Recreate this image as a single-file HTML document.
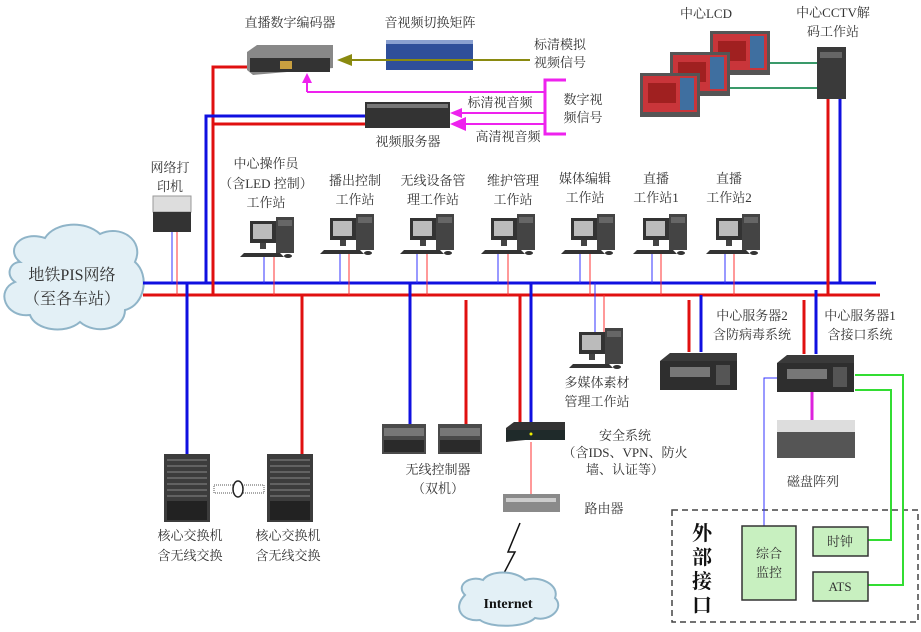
<!DOCTYPE html>
<html><head><meta charset="utf-8"><style>
html,body{margin:0;padding:0;background:#fff}
svg{display:block}
text{font-family:"Liberation Serif","Noto Serif CJK SC","Noto Sans CJK SC",serif;font-size:13px;fill:#333}
</style></head><body>
<svg width="921" height="632" viewBox="0 0 921 632" xmlns="http://www.w3.org/2000/svg">
<defs>
<g id="pc">
 <rect x="0" y="4" width="26" height="22" fill="#333"/>
 <rect x="3" y="7" width="19" height="15" fill="#bbb"/>
 <rect x="10" y="26" width="6" height="6" fill="#444"/>
 <rect x="26" y="0" width="18" height="36" fill="#444"/>
 <rect x="28" y="3" width="14" height="6" fill="#666"/>
 <polygon points="-6,36 30,36 34,40 -10,40" fill="#333"/>
 <ellipse cx="38" cy="39" rx="4" ry="2" fill="#333"/>
</g>
<g id="srv">
 <polygon points="0,8 10,0 77,0 77,30 0,37" fill="#3a3a3a"/>
 <rect x="0" y="8" width="77" height="29" fill="#2e2e2e"/>
 <rect x="10" y="14" width="40" height="10" fill="#777"/>
 <rect x="56" y="12" width="14" height="20" fill="#555"/>
</g>
<g id="sw">
 <rect x="0" y="0" width="46" height="68" fill="#3c3c3c"/>
 <g stroke="#888" stroke-width="1"><line x1="3" y1="6" x2="43" y2="6"/><line x1="3" y1="12" x2="43" y2="12"/><line x1="3" y1="18" x2="43" y2="18"/><line x1="3" y1="24" x2="43" y2="24"/><line x1="3" y1="30" x2="43" y2="30"/><line x1="3" y1="36" x2="43" y2="36"/><line x1="3" y1="42" x2="43" y2="42"/></g>
 <rect x="3" y="47" width="40" height="19" fill="#222"/>
</g>
<g id="lcd">
 <rect x="0" y="0" width="60" height="44" fill="#555"/>
 <rect x="3" y="3" width="54" height="36" fill="#c9353a"/>
 <rect x="40" y="5" width="14" height="32" fill="#3f6fa0"/>
 <rect x="8" y="10" width="28" height="20" fill="#a02020"/>
</g>
<g id="wc">
 <rect x="0" y="0" width="44" height="30" fill="#4a4a4a"/>
 <rect x="2" y="4" width="40" height="8" fill="#777"/>
 <rect x="2" y="16" width="40" height="12" fill="#2a2a2a"/>
</g>
</defs>

<!-- cloud PIS -->
<g fill="#e3f0f6" stroke="#8fb4c8" stroke-width="2">
 <path d="M20,262 C5,250 20,230 45,238 C55,222 85,220 100,234 C120,224 145,240 135,262 C150,275 145,305 125,310 C125,330 95,335 80,322 C65,335 35,330 30,315 C5,318 -5,290 15,282 C5,275 10,262 20,262 Z"/>
</g>
<text x="72" y="280" text-anchor="middle" font-size="16" style="font-size:16px">地铁PIS网络</text>
<text x="72" y="304" text-anchor="middle" style="font-size:16px">（至各车站）</text>

<!-- buses -->
<line x1="143" y1="283" x2="876" y2="283" stroke="#1010e0" stroke-width="3"/>
<line x1="143" y1="295" x2="880" y2="295" stroke="#e01010" stroke-width="3"/>

<!-- top: encoder, matrix, video server -->
<polyline points="213,295 213,67 247,67" fill="none" stroke="#e01010" stroke-width="3"/>
<polyline points="206,283 206,116 365,116" fill="none" stroke="#1010e0" stroke-width="3"/>
<line x1="213" y1="124" x2="365" y2="124" stroke="#e01010" stroke-width="3"/>
<polygon points="247,52 257,45 333,45 333,68 253,75 247,70" fill="#888"/>
<rect x="250" y="58" width="80" height="14" fill="#333"/>
<rect x="280" y="61" width="12" height="8" fill="#c9a040"/>
<rect x="386" y="40" width="87" height="30" fill="#2f4f9a"/>
<rect x="386" y="40" width="87" height="4" fill="#8aa0d0"/>
<rect x="365" y="102" width="85" height="26" fill="#333"/>
<rect x="367" y="104" width="81" height="4" fill="#777"/>
<line x1="530" y1="60" x2="345" y2="60" stroke="#8a8a10" stroke-width="2"/>
<polygon points="337,60 352,54 352,66" fill="#8a8a10"/>
<polyline points="307,92 545,92" fill="none" stroke="#ee22ee" stroke-width="2"/>
<line x1="307" y1="92" x2="307" y2="80" stroke="#ee22ee" stroke-width="2"/>
<polygon points="307,73 302,83 312,83" fill="#ee22ee"/>
<polyline points="566,80 545,80 545,134 566,134" fill="none" stroke="#ee22ee" stroke-width="3"/>
<line x1="545" y1="113" x2="458" y2="113" stroke="#ee22ee" stroke-width="2"/>
<polygon points="450,113 462,108 462,118" fill="#ee22ee"/>
<line x1="545" y1="124" x2="462" y2="124" stroke="#ee22ee" stroke-width="2"/>
<polygon points="450,124 466,117 466,131" fill="#ee22ee"/>
<text x="290" y="27" text-anchor="middle">直播数字编码器</text>
<text x="430" y="27" text-anchor="middle">音视频切换矩阵</text>
<text x="560" y="49" text-anchor="middle">标清模拟</text>
<text x="560" y="67" text-anchor="middle">视频信号</text>
<text x="500" y="107" text-anchor="middle">标清视音频</text>
<text x="508" y="141" text-anchor="middle">高清视音频</text>
<text x="583" y="104" text-anchor="middle">数字视</text>
<text x="583" y="122" text-anchor="middle">频信号</text>
<text x="408" y="146" text-anchor="middle">视频服务器</text>

<!-- printer -->
<rect x="153" y="196" width="38" height="16" fill="#ddd" stroke="#999"/>
<rect x="153" y="212" width="38" height="20" fill="#333"/>
<line x1="172" y1="232" x2="172" y2="283" stroke="#3333ff" stroke-width="1"/>
<line x1="177" y1="232" x2="177" y2="295" stroke="#ff3333" stroke-width="1"/>
<text x="170" y="172" text-anchor="middle">网络打</text>
<text x="170" y="191" text-anchor="middle">印机</text>

<!-- workstations -->
<g>
<use href="#pc" x="250" y="217"/><line x1="264" y1="257" x2="264" y2="283" stroke="#3333ff"/><line x1="274" y1="257" x2="274" y2="295" stroke="#ff3333"/>
<use href="#pc" x="330" y="214"/><line x1="340" y1="254" x2="340" y2="283" stroke="#3333ff"/><line x1="349" y1="254" x2="349" y2="295" stroke="#ff3333"/>
<use href="#pc" x="410" y="214"/><line x1="417" y1="254" x2="417" y2="283" stroke="#3333ff"/><line x1="427" y1="254" x2="427" y2="295" stroke="#ff3333"/>
<use href="#pc" x="491" y="214"/><line x1="498" y1="254" x2="498" y2="283" stroke="#3333ff"/><line x1="508" y1="254" x2="508" y2="295" stroke="#ff3333"/>
<use href="#pc" x="571" y="214"/><line x1="580" y1="254" x2="580" y2="283" stroke="#3333ff"/><line x1="590" y1="254" x2="590" y2="295" stroke="#ff3333"/>
<use href="#pc" x="643" y="214"/><line x1="652" y1="254" x2="652" y2="283" stroke="#3333ff"/><line x1="661" y1="254" x2="661" y2="295" stroke="#ff3333"/>
<use href="#pc" x="716" y="214"/><line x1="725" y1="254" x2="725" y2="283" stroke="#3333ff"/><line x1="734" y1="254" x2="734" y2="295" stroke="#ff3333"/>
</g>
<text x="266" y="168" text-anchor="middle">中心操作员</text>
<text x="266" y="188" text-anchor="middle">（含LED 控制）</text>
<text x="266" y="207" text-anchor="middle">工作站</text>
<text x="355" y="185" text-anchor="middle">播出控制</text>
<text x="355" y="204" text-anchor="middle">工作站</text>
<text x="433" y="185" text-anchor="middle">无线设备管</text>
<text x="433" y="204" text-anchor="middle">理工作站</text>
<text x="513" y="185" text-anchor="middle">维护管理</text>
<text x="513" y="204" text-anchor="middle">工作站</text>
<text x="585" y="183" text-anchor="middle">媒体编辑</text>
<text x="585" y="202" text-anchor="middle">工作站</text>
<text x="656" y="183" text-anchor="middle">直播</text>
<text x="656" y="202" text-anchor="middle">工作站1</text>
<text x="729" y="183" text-anchor="middle">直播</text>
<text x="729" y="202" text-anchor="middle">工作站2</text>

<!-- LCD & CCTV -->
<line x1="770" y1="63" x2="818" y2="63" stroke="#3a9a6a" stroke-width="2"/>
<line x1="730" y1="88" x2="818" y2="88" stroke="#3a9a6a" stroke-width="2"/>
<use href="#lcd" x="710" y="31"/>
<use href="#lcd" x="670" y="52"/>
<use href="#lcd" x="640" y="73"/>
<rect x="817" y="47" width="29" height="52" fill="#3a3a3a"/>
<rect x="820" y="52" width="22" height="6" fill="#666"/>
<line x1="828" y1="99" x2="828" y2="295" stroke="#e01010" stroke-width="3"/>
<line x1="840" y1="99" x2="840" y2="283" stroke="#1010e0" stroke-width="3"/>
<text x="706" y="18" text-anchor="middle">中心LCD</text>
<text x="833" y="17" text-anchor="middle">中心CCTV解</text>
<text x="833" y="36" text-anchor="middle">码工作站</text>

<!-- core switches -->
<line x1="187" y1="283" x2="187" y2="454" stroke="#1010e0" stroke-width="3"/>
<line x1="302" y1="295" x2="302" y2="454" stroke="#e01010" stroke-width="3"/>
<use href="#sw" x="164" y="454"/>
<use href="#sw" x="267" y="454"/>
<rect x="214" y="485" width="50" height="8" fill="none" stroke="#555" stroke-dasharray="1,1"/>
<ellipse cx="238" cy="489" rx="5" ry="8" fill="#fff" stroke="#222" stroke-width="1.5"/>
<text x="190" y="540" text-anchor="middle">核心交换机</text>
<text x="190" y="560" text-anchor="middle">含无线交换</text>
<text x="288" y="540" text-anchor="middle">核心交换机</text>
<text x="288" y="560" text-anchor="middle">含无线交换</text>

<!-- wireless controllers -->
<line x1="410" y1="283" x2="410" y2="425" stroke="#1010e0" stroke-width="3"/>
<line x1="466" y1="300" x2="466" y2="425" stroke="#e01010" stroke-width="3"/>
<use href="#wc" x="382" y="424"/>
<use href="#wc" x="438" y="424"/>
<text x="438" y="474" text-anchor="middle">无线控制器</text>
<text x="438" y="493" text-anchor="middle">（双机）</text>

<!-- security/router -->
<line x1="520" y1="295" x2="520" y2="422" stroke="#e01010" stroke-width="3"/>
<line x1="531" y1="283" x2="531" y2="422" stroke="#1010e0" stroke-width="3"/>
<polygon points="506,428 514,422 565,422 565,436 506,442" fill="#333"/>
<rect x="506" y="430" width="59" height="10" fill="#1f2a2a"/>
<circle cx="531" cy="434" r="1.5" fill="#ee0"/>
<line x1="531" y1="442" x2="531" y2="494" stroke="#ff3333"/>
<rect x="503" y="494" width="57" height="18" fill="#8a8a8a"/>
<rect x="506" y="498" width="50" height="4" fill="#ccc"/>
<polyline points="520,523 508,552 515,552 503,575" fill="none" stroke="#111" stroke-width="1.5"/>
<path d="M465,595 C455,585 470,575 483,580 C490,570 515,570 525,580 C540,575 560,585 555,598 C565,608 550,622 535,618 C525,628 490,628 480,620 C462,622 452,608 465,595 Z" fill="#e3f0f6" stroke="#8fb4c8" stroke-width="2"/>
<text x="508" y="608" text-anchor="middle" style="font-size:14px;font-weight:bold;fill:#111">Internet</text>
<text x="625" y="440" text-anchor="middle">安全系统</text>
<text x="625" y="457" text-anchor="middle">（含IDS、VPN、防火</text>
<text x="625" y="474" text-anchor="middle">墙、认证等）</text>
<text x="604" y="513" text-anchor="middle">路由器</text>

<!-- multimedia ws -->
<line x1="595" y1="283" x2="595" y2="333" stroke="#3333ff"/>
<line x1="604" y1="295" x2="604" y2="333" stroke="#ff3333"/>
<use href="#pc" x="579" y="328"/>
<text x="597" y="387" text-anchor="middle">多媒体素材</text>
<text x="597" y="406" text-anchor="middle">管理工作站</text>

<!-- servers -->
<line x1="689" y1="300" x2="689" y2="352" stroke="#e01010" stroke-width="3"/>
<line x1="701" y1="295" x2="701" y2="352" stroke="#1010e0" stroke-width="3"/>
<use href="#srv" x="660" y="353"/>
<text x="752" y="320" text-anchor="middle">中心服务器2</text>
<text x="752" y="339" text-anchor="middle">含防病毒系统</text>
<line x1="804" y1="300" x2="804" y2="354" stroke="#e01010" stroke-width="3"/>
<line x1="816" y1="290" x2="816" y2="354" stroke="#1010e0" stroke-width="3"/>
<use href="#srv" x="777" y="355"/>
<text x="860" y="320" text-anchor="middle">中心服务器1</text>
<text x="860" y="339" text-anchor="middle">含接口系统</text>
<line x1="812" y1="392" x2="812" y2="420" stroke="#dd22dd" stroke-width="3"/>
<rect x="777" y="420" width="78" height="38" fill="#555"/>
<rect x="777" y="420" width="78" height="12" fill="#ddd"/>
<text x="813" y="486" text-anchor="middle">磁盘阵列</text>

<!-- external interface -->
<rect x="672" y="510" width="246" height="112" fill="none" stroke="#444" stroke-width="1.5" stroke-dasharray="6,4"/>
<text x="702" y="540" text-anchor="middle" style="font-size:20px;font-weight:bold;fill:#111">外</text>
<text x="702" y="564" text-anchor="middle" style="font-size:20px;font-weight:bold;fill:#111">部</text>
<text x="702" y="588" text-anchor="middle" style="font-size:20px;font-weight:bold;fill:#111">接</text>
<text x="702" y="612" text-anchor="middle" style="font-size:20px;font-weight:bold;fill:#111">口</text>
<polyline points="777,378 764,378 764,526" fill="none" stroke="#3333ff" stroke-width="1"/>
<polyline points="855,375 903,375 903,585 868,585" fill="none" stroke="#33dd33" stroke-width="2"/>
<polyline points="855,390 891,390 891,540 868,540" fill="none" stroke="#33dd33" stroke-width="2"/>
<rect x="742" y="526" width="54" height="74" fill="#c8f0c0" stroke="#333" stroke-width="1.5"/>
<rect x="813" y="527" width="55" height="29" fill="#c8f0c0" stroke="#333" stroke-width="1.5"/>
<rect x="813" y="572" width="55" height="29" fill="#c8f0c0" stroke="#333" stroke-width="1.5"/>
<text x="769" y="558" text-anchor="middle">综合</text>
<text x="769" y="577" text-anchor="middle">监控</text>
<text x="840" y="546" text-anchor="middle">时钟</text>
<text x="840" y="591" text-anchor="middle">ATS</text>
</svg>
</body></html>
